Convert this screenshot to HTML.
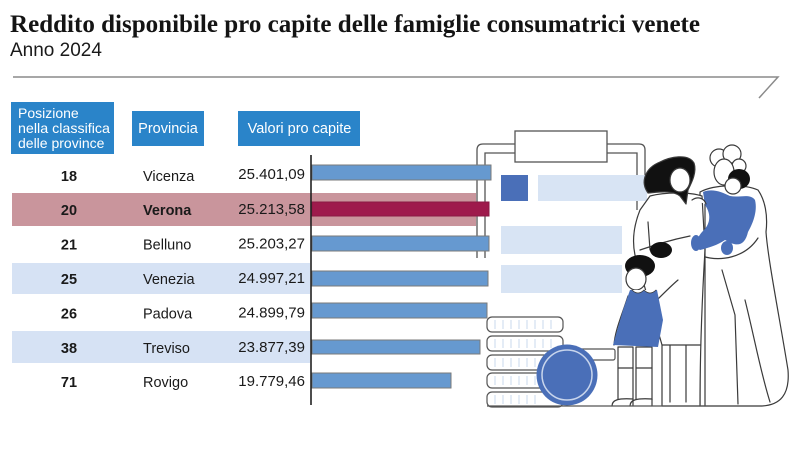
<!DOCTYPE html>
<html><head><meta charset="utf-8"><style>
html,body{margin:0;padding:0;background:#fff;}
svg{display:block;}
.s{font-family:"Liberation Sans",sans-serif;}
.t{font-family:"Liberation Serif",serif;}
</style></head><body>
<svg width="800" height="449" viewBox="0 0 800 449" xmlns="http://www.w3.org/2000/svg">
<rect width="800" height="449" fill="#fff"/>
<!-- Title -->
<text class="t" x="10" y="32" font-weight="bold" font-size="25" fill="#141414" textLength="690" lengthAdjust="spacingAndGlyphs">Reddito disponibile pro capite delle famiglie consumatrici venete</text>
<text class="s" x="10" y="56" font-size="19" fill="#1a1a1a">Anno 2024</text>
<!-- rule -->
<polyline points="13,77 778,77 759,98" fill="none" stroke="#8a8a8a" stroke-width="1.5"/>

<!-- header boxes -->
<rect x="11" y="102" width="103" height="52" fill="#2a84c9"/>
<g class="s" fill="#fff">
<text x="18" y="118" font-size="14">Posizione</text>
<text x="18" y="133" font-size="14" textLength="92" lengthAdjust="spacingAndGlyphs">nella classifica</text>
<text x="18" y="148" font-size="14">delle province</text>
</g>
<rect x="132" y="111" width="72" height="35" fill="#2a84c9"/>
<text class="s" x="168" y="133" font-size="14.5" fill="#fff" text-anchor="middle">Provincia</text>
<rect x="238" y="111" width="122" height="35" fill="#2a84c9"/>
<text class="s" x="299.5" y="133" font-size="14.5" fill="#fff" text-anchor="middle">Valori pro capite</text>

<!-- row backgrounds -->
<rect x="12" y="193" width="464" height="33" fill="#c9959c"/>
<rect x="12" y="263" width="298" height="31" fill="#d6e2f4"/>
<rect x="12" y="331" width="298" height="32" fill="#d6e2f4"/>

<!-- illustration: clipboard -->
<g fill="none" stroke="#555" stroke-width="1.3">
<path d="M477,258 L477,150 Q477,144 483,144 L515,144 M607,144 L639,144 Q645,144 645,150 L645,200"/>
<path d="M485,258 L485,153 L515,153 M607,153 L637,153 L637,210"/>
</g>
<rect x="515" y="131" width="92" height="31" fill="#fff" stroke="#555" stroke-width="1.3"/>
<rect x="538" y="175" width="109" height="26" fill="#d8e4f4"/>
<rect x="501" y="175" width="27" height="26" fill="#4a6fb8"/>
<rect x="501" y="226" width="121" height="28" fill="#d8e4f4"/>
<rect x="501" y="265" width="121" height="28" fill="#d8e4f4"/>

<!-- bars -->
<g stroke="#7a7a7a" stroke-width="1">
<rect x="312" y="165" width="179" height="15" fill="#6699d0"/>
<rect x="312" y="202" width="177" height="14" fill="#9e1a4c" stroke="#8a1a44"/>
<rect x="312" y="236" width="177" height="15" fill="#6699d0"/>
<rect x="312" y="271" width="176" height="15" fill="#6699d0"/>
<rect x="312" y="303" width="175" height="15" fill="#6699d0"/>
<rect x="312" y="340" width="168" height="14" fill="#6699d0"/>
<rect x="312" y="373" width="139" height="15" fill="#6699d0"/>
</g>
<!-- axis -->
<line x1="311" y1="155" x2="311" y2="405" stroke="#222" stroke-width="1.6"/>

<!-- rows text -->
<g class="s" font-size="14.5" fill="#1a1a1a">
<text x="69" y="181" text-anchor="middle" font-weight="bold">18</text>
<text x="143" y="181">Vicenza</text>
<text x="305" y="179" text-anchor="end" font-size="15">25.401,09</text>

<text x="69" y="215" text-anchor="middle" font-weight="bold">20</text>
<text x="143" y="215" font-weight="bold">Verona</text>
<text x="305" y="214" text-anchor="end" font-size="15">25.213,58</text>

<text x="69" y="249.5" text-anchor="middle" font-weight="bold">21</text>
<text x="143" y="249.5">Belluno</text>
<text x="305" y="248.5" text-anchor="end" font-size="15">25.203,27</text>

<text x="69" y="284" text-anchor="middle" font-weight="bold">25</text>
<text x="143" y="284">Venezia</text>
<text x="305" y="283" text-anchor="end" font-size="15">24.997,21</text>

<text x="69" y="318.5" text-anchor="middle" font-weight="bold">26</text>
<text x="143" y="318.5">Padova</text>
<text x="305" y="317.5" text-anchor="end" font-size="15">24.899,79</text>

<text x="69" y="353" text-anchor="middle" font-weight="bold">38</text>
<text x="143" y="353">Treviso</text>
<text x="305" y="352" text-anchor="end" font-size="15">23.877,39</text>

<text x="69" y="387" text-anchor="middle" font-weight="bold">71</text>
<text x="143" y="387">Rovigo</text>
<text x="305" y="386" text-anchor="end" font-size="15">19.779,46</text>
</g>

<!-- coins -->
<g fill="#fff" stroke="#555" stroke-width="1.2">
<rect x="487" y="317" width="76" height="15" rx="5"/>
<rect x="487" y="336" width="76" height="15" rx="5"/>
<rect x="487" y="355" width="76" height="15" rx="5"/>
<rect x="487" y="373" width="76" height="15" rx="5"/>
<rect x="487" y="392" width="76" height="15" rx="5"/>
<rect x="560" y="349" width="55" height="11" rx="2"/>
</g>
<g stroke="#dbe5f4" stroke-width="1.5">
<path d="M495,320v9M503,320v9M511,320v9M519,320v9M527,320v9M535,320v9M543,320v9M551,320v9
M495,339v9M503,339v9M511,339v9M519,339v9M527,339v9M535,339v9M543,339v9M551,339v9
M495,358v9M503,358v9M511,358v9M519,358v9M527,358v9M535,358v9
M495,376v9M503,376v9M511,376v9M519,376v9M527,376v9M535,376v9
M495,395v9M503,395v9M511,395v9M519,395v9M527,395v9M535,395v9"/>
</g>
<circle cx="567" cy="375" r="30.5" fill="#4a6fb8"/>
<circle cx="567" cy="375" r="25" fill="none" stroke="#c8d5ec" stroke-width="1.5"/>

<!-- people -->
<g stroke="#3a3a3a" stroke-width="1.2" stroke-linejoin="round" stroke-linecap="round">
<!-- grandma -->
<path d="M700,192 C715,184 745,184 758,190 C765,200 768,215 766,232 C768,260 780,320 788,370 C790,395 780,405 762,406 L700,406 Z" fill="#fff"/>
<path d="M722,270 L735,315 L738,404 M745,300 C755,340 760,370 770,402 M702,256 C720,262 745,258 758,238" fill="none"/>
<!-- woman -->
<path d="M650,196 C665,192 690,192 702,196 L705,250 C702,300 700,350 700,406 L662,406 L662,345 C655,320 645,290 640,270 C633,255 630,235 640,210 Z" fill="#fff"/>
<path d="M640,250 C655,245 670,240 690,236 M648,222 L650,250 M662,345 L700,345 M670,345 L670,402 M686,345 L686,402 M705,195 L705,406" fill="none"/>
<!-- woman head -->
<path d="M648,193 C640,182 645,168 660,162 C670,157 688,153 694,163 C697,172 692,182 688,190 L686,204 L680,196 C672,190 660,192 648,193 Z" fill="#111"/>
<ellipse cx="680" cy="180" rx="10" ry="12" fill="#fff"/>
<!-- grandma head -->
<circle cx="719" cy="158" r="9" fill="#fff"/>
<circle cx="732" cy="154" r="9" fill="#fff"/>
<circle cx="739" cy="166" r="7" fill="#fff"/>
<ellipse cx="724" cy="172" rx="10" ry="13" fill="#fff"/>
<!-- baby -->
<path d="M703,192 C712,188 722,192 730,196 C740,198 750,193 755,200 C758,212 752,225 748,232 C745,245 738,248 725,240 C718,245 708,248 700,250 C695,248 695,240 702,232 C710,225 712,215 705,205 Z" fill="#4a6fb8" stroke="none"/>
<ellipse cx="696" cy="243" rx="5" ry="8" fill="#4a6fb8" stroke="none"/>
<ellipse cx="727" cy="248" rx="6" ry="7" fill="#4a6fb8" stroke="none"/>
<ellipse cx="739" cy="179" rx="11" ry="10" fill="#111" stroke="none"/>
<ellipse cx="733" cy="186" rx="8" ry="8" fill="#fff"/>
<path d="M692,200 C698,196 704,198 706,204" fill="#fff"/>
<!-- girl -->
<ellipse cx="661" cy="250" rx="11" ry="8" fill="#111" stroke="none"/>
<ellipse cx="640" cy="266" rx="15" ry="11" fill="#111" stroke="none"/>
<ellipse cx="636" cy="279" rx="10" ry="11" fill="#fff"/>
<path d="M657,300 C665,292 672,285 678,280" fill="none"/>
<path d="M628,296 C622,315 615,330 614,345" fill="none"/>
<rect x="618" y="347" width="15" height="53" fill="#fff"/>
<rect x="636" y="347" width="16" height="53" fill="#fff"/>
<path d="M618,368 H633 M636,368 H652 M612,406 C612,400 618,398 633,399 L633,406 M630,406 C630,400 636,398 652,399 L652,406" fill="#fff"/>
<path d="M630,290 L657,290 L663,320 L658,347 L613,345 L623,310 Z" fill="#4a6fb8" stroke="none"/>
<path d="M632,290 Q638,296 644,290 Q650,296 656,290" fill="#fff" stroke-width="0.8"/>
</g>
<!-- ground -->
<path d="M487,406 L762,406" stroke="#555" stroke-width="1.2" fill="none"/>
</svg>
</body></html>
